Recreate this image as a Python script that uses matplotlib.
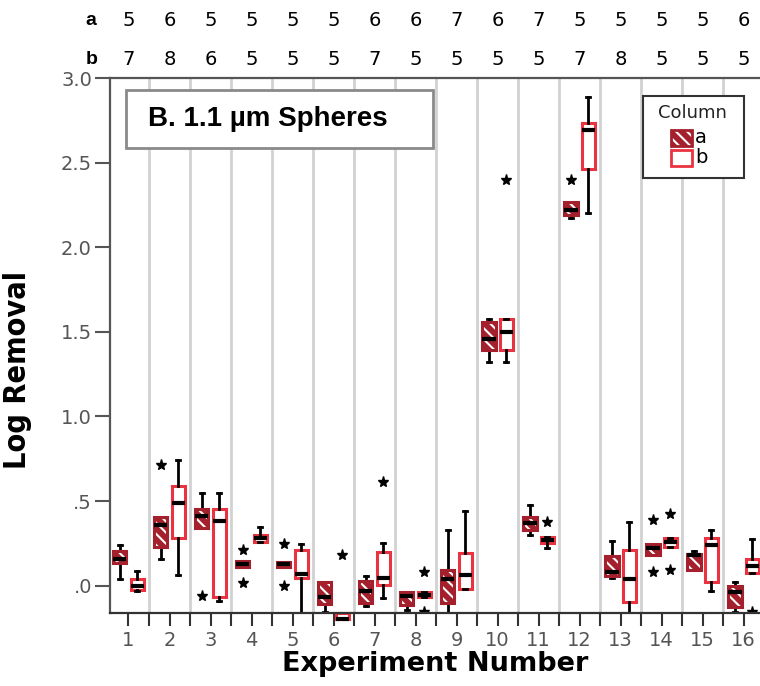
import numpy as np
import matplotlib
matplotlib.use('Agg')
import matplotlib.pyplot as plt
from matplotlib.patches import Rectangle

# ==================== data ====================
experiments = list(range(1, 17))
n_a = [5, 6, 5, 5, 5, 5, 6, 6, 7, 6, 7, 5, 5, 5, 5, 6]
n_b = [7, 8, 6, 5, 5, 5, 7, 5, 5, 5, 5, 7, 8, 5, 5, 5]

# column a: whisker low, Q1, median, Q3, whisker high, extremes
a_lo = [0.04, 0.16, 0.34, 0.11, 0.11, -0.155, -0.12, -0.145, -0.16, 1.32, 0.30, 2.17, 0.045, 0.18, 0.09, -0.155]
a_q1 = [0.135, 0.23, 0.34, 0.11, 0.11, -0.11, -0.105, -0.115, -0.10, 1.39, 0.33, 2.19, 0.055, 0.18, 0.095, -0.125]
a_med = [0.16, 0.36, 0.41, 0.13, 0.13, -0.065, -0.03, -0.06, 0.04, 1.46, 0.37, 2.22, 0.08, 0.225, 0.18, -0.04]
a_q3 = [0.205, 0.405, 0.45, 0.145, 0.14, 0.02, 0.03, -0.04, 0.09, 1.56, 0.405, 2.27, 0.175, 0.245, 0.185, 0.0]
a_hi = [0.24, 0.405, 0.545, 0.145, 0.14, 0.02, 0.055, -0.04, 0.33, 1.575, 0.475, 2.27, 0.265, 0.245, 0.205, 0.02]
a_ext = [[], [0.71], [-0.06], [0.21, 0.015], [0.245, 0.0], [], [], [], [], [], [], [2.40], [], [0.385, 0.08], [], []]

# column b
b_lo = [-0.03, 0.065, -0.09, 0.255, -0.20, -0.20, -0.075, -0.065, -0.02, 1.32, 0.225, 2.205, -0.20, 0.23, -0.03, 0.075]
b_q1 = [-0.025, 0.28, -0.065, 0.255, 0.045, -0.20, 0.005, -0.065, -0.02, 1.39, 0.25, 2.465, -0.095, 0.23, 0.02, 0.075]
b_med = [0.0, 0.49, 0.38, 0.28, 0.07, -0.20, 0.045, -0.055, 0.065, 1.50, 0.27, 2.69, 0.04, 0.26, 0.24, 0.115]
b_q3 = [0.04, 0.59, 0.45, 0.30, 0.21, -0.16, 0.20, -0.04, 0.195, 1.575, 0.29, 2.735, 0.21, 0.28, 0.28, 0.155]
b_hi = [0.085, 0.745, 0.545, 0.345, 0.245, -0.16, 0.25, -0.04, 0.44, 1.575, 0.29, 2.89, 0.375, 0.28, 0.33, 0.275]
b_ext = [[], [], [], [], [], [0.18], [0.61], [0.08, -0.155], [], [2.40], [0.375], [], [], [0.425, 0.09], [], [-0.155]]

y_ticks = [0.0, 0.5, 1.0, 1.5, 2.0, 2.5, 3.0]
y_ticklabels = ['.0', '.5', '1.0', '1.5', '2.0', '2.5', '3.0']

DARK_RED = '#a3202c'
RED = '#ea3340'
OFFSET = 0.21
WIDTH = 0.32
HATCH = '\\\\\\'


def make_stats(lo, q1, med, q3, hi, ext):
    return [dict(whislo=l, q1=a, med=m, q3=b, whishi=h, fliers=f)
            for l, a, m, b, h, f in zip(lo, q1, med, q3, hi, ext)]


plt.rcParams['hatch.linewidth'] = 1.5

fig = plt.figure(figsize=(7.6, 6.86), dpi=100)
ax = fig.add_axes([110 / 760, 73.3 / 686, 650 / 760, 534.7 / 686])
ax.set_xlim(0.549, 16.40)
ax.set_ylim(-0.16, 3.0)

for xb in np.arange(1.5, 16, 1):
    ax.axvline(xb, color='#d2d2d2', lw=2, zorder=0)

common = dict(widths=WIDTH, patch_artist=True, showcaps=True,
              whiskerprops=dict(color='black', lw=2),
              capprops=dict(color='black', lw=2),
              medianprops=dict(color='black', lw=3, solid_capstyle='butt', zorder=5),
              flierprops=dict(marker='*', markersize=8, markerfacecolor='black',
                              markeredgecolor='black', linestyle='none'))

pos_a = [e - OFFSET for e in experiments]
pos_b = [e + OFFSET for e in experiments]

ax.bxp(make_stats(a_lo, a_q1, a_med, a_q3, a_hi, a_ext), positions=pos_a, capwidths=0.1,
       boxprops=dict(facecolor=DARK_RED, edgecolor='white', hatch=HATCH, lw=0), **common)
for p, lo, hi in zip(pos_a, a_q1, a_q3):
    ax.add_patch(Rectangle((p - WIDTH / 2, lo), WIDTH, hi - lo, fill=False,
                           ec=DARK_RED, lw=2.2, zorder=4))

res_b = ax.bxp(make_stats(b_lo, b_q1, b_med, b_q3, b_hi, b_ext), positions=pos_b, capwidths=0.1,
               boxprops=dict(facecolor='white', edgecolor=RED, lw=2.2), **common)
# experiment 6 column b sits just under the axis floor
res_b['boxes'][5].set_clip_on(False)
res_b['medians'][5].set_clip_on(False)
for art in res_b['caps'][10:12]:
    art.set_visible(False)

ax.set_xticks(experiments)
ax.set_xticklabels([str(e) for e in experiments])
ax.set_xticks(np.arange(1.5, 16, 1), minor=True)
ax.set_yticks(y_ticks)
ax.set_yticklabels(y_ticklabels)
ax.tick_params(axis='x', which='both', direction='out', length=9, width=1.5,
               labelsize=14, labelcolor='#555555', color='#333333', pad=4)
ax.tick_params(axis='y', direction='out', length=11, width=1.5,
               labelsize=14, labelcolor='#555555', color='#555555', pad=2)

for side in ['top', 'left']:
    ax.spines[side].set_color('#555555')
    ax.spines[side].set_linewidth(1.6)
ax.spines['bottom'].set_color('#333333')
ax.spines['bottom'].set_linewidth(1.6)
ax.spines['right'].set_visible(False)

ax.set_ylabel('Log Removal', fontsize=22, fontweight='bold', family='DejaVu Sans',
              fontstretch='condensed')
ax.yaxis.set_label_coords(-0.12, 0.454)
ax.set_xlabel('Experiment Number', fontsize=19.5, fontweight='bold')
ax.xaxis.set_label_coords(0.5, -0.072)

# sample counts per column above the plot
tr = ax.get_xaxis_transform()
for e, na, nb in zip(experiments, n_a, n_b):
    ax.text(e, 1.108, str(na), transform=tr, ha='center', va='center', fontsize=14, clip_on=False)
    ax.text(e, 1.034, str(nb), transform=tr, ha='center', va='center', fontsize=14, clip_on=False)
ax.text(-0.029, 1.108, 'a', transform=ax.transAxes, ha='center', va='center',
        fontsize=14, fontweight='bold', family='Liberation Sans')
ax.text(-0.029, 1.034, 'b', transform=ax.transAxes, ha='center', va='center',
        fontsize=14, fontweight='bold', family='Liberation Sans')

# panel title box
ax.add_patch(Rectangle((0.025, 0.869), 0.472, 0.109, transform=ax.transAxes,
                       fc='white', ec='#8a8a8a', lw=2, zorder=6))
ax.text(0.058, 0.923, 'B. 1.1 µm Spheres', transform=ax.transAxes, ha='left', va='center',
        fontsize=20, fontweight='bold', family='Liberation Sans', zorder=7)

# legend
ax.add_patch(Rectangle((0.8195, 0.8124), 0.1555, 0.1539, transform=ax.transAxes,
                       fc='white', ec='#333333', lw=1.5, zorder=6))
ax.text(0.8965, 0.9346, 'Column', transform=ax.transAxes, ha='center', va='center',
        fontsize=13, color='#222222', zorder=7)
ax.add_patch(Rectangle((0.863, 0.873), 0.032, 0.030, transform=ax.transAxes,
                       fc=DARK_RED, ec='white', hatch=HATCH, lw=0, zorder=7))
ax.add_patch(Rectangle((0.863, 0.873), 0.032, 0.030, transform=ax.transAxes,
                       fill=False, ec=DARK_RED, lw=2, zorder=8))
ax.add_patch(Rectangle((0.863, 0.836), 0.032, 0.030, transform=ax.transAxes,
                       fc='white', ec=RED, lw=2, zorder=7))
ax.text(0.900, 0.888, 'a', transform=ax.transAxes, ha='left', va='center', fontsize=14, zorder=7)
ax.text(0.900, 0.851, 'b', transform=ax.transAxes, ha='left', va='center', fontsize=14, zorder=7)

fig.savefig('out.png', dpi=100)
